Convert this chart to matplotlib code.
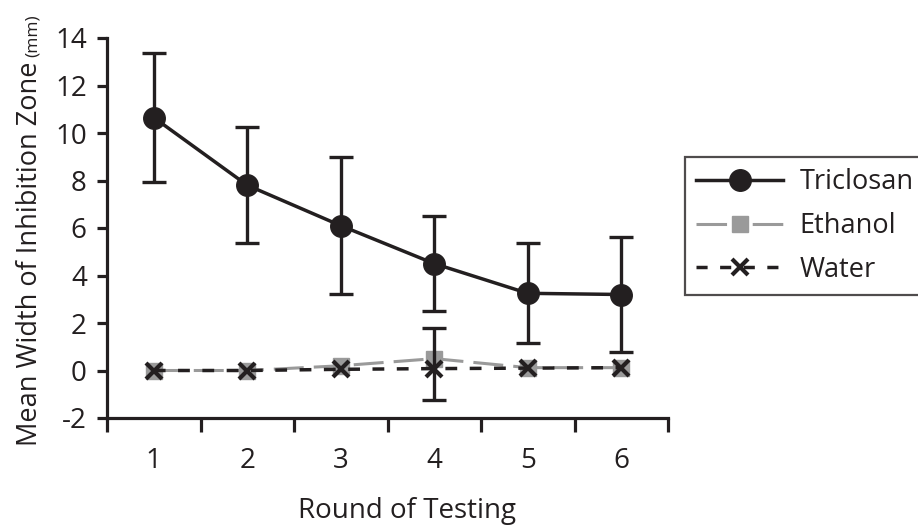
import numpy as np
import matplotlib
matplotlib.use("Agg")
import matplotlib.pyplot as plt
from matplotlib.lines import Line2D

plt.rcParams['font.family'] = ['Open Sans', 'DejaVu Sans']

rounds = [1, 2, 3, 4, 5, 6]
round_labels = ['1', '2', '3', '4', '5', '6']
triclosan = [10.65, 7.8, 6.1, 4.5, 3.25, 3.2]
triclosan_err = [2.7, 2.45, 2.87, 2.0, 2.1, 2.42]
ethanol = [0.0, 0.0, 0.2, 0.5, 0.12, 0.12]
water = [0.0, 0.0, 0.05, 0.08, 0.1, 0.12]
water_err_low = [np.nan, np.nan, np.nan, 1.33, np.nan, np.nan]
water_err_high = [np.nan, np.nan, np.nan, 1.7, np.nan, np.nan]
yticks = [-2, 0, 2, 4, 6, 8, 10, 12, 14]

BLACK = '#231f20'
GRAY = '#9a9a9a'
FS = 20

W, H = 918, 525
fig = plt.figure(figsize=(W / 100, H / 100), dpi=100)
ax = fig.add_axes([107 / W, 1 - 418 / H, (668 - 107) / W, (418 - 38) / H])

x = np.array(rounds, dtype=float)

# Ethanol (grey long dash)
ax.plot(x, ethanol, color=GRAY, lw=2.2, dashes=(9.8, 3.3), marker='s', ms=11,
        mfc=GRAY, mec=GRAY, zorder=2)
# Water (black dashed with x)
ax.plot(x, water, color=BLACK, lw=2.5, dashes=(3.4, 3.6), marker='x', ms=11,
        mew=3, mec=BLACK, zorder=3)
wl = np.array(water_err_low)
wh = np.array(water_err_high)
m = np.isfinite(wl)
ax.errorbar(x[m], np.array(water)[m], yerr=[wl[m], wh[m]], fmt='none',
            ecolor=BLACK, elinewidth=2.4, capsize=8.5, capthick=2.4, zorder=3)
# Triclosan
ax.errorbar(x, triclosan, yerr=triclosan_err, fmt='none', ecolor=BLACK,
            elinewidth=2.4, capsize=8.5, capthick=2.4, zorder=4)
ax.plot(x, triclosan, color=BLACK, lw=2.5, marker='o', ms=15.5, mfc=BLACK,
        mec=BLACK, zorder=5)

ax.set_xlim(0.5, 6.5)
ax.set_ylim(-2, 14)
ax.set_yticks(yticks)
ax.set_yticklabels([str(v) for v in yticks])
ax.set_xticks(np.arange(0.5, 6.6, 1.0))
ax.set_xticklabels([])
ax.set_xticks(x, minor=True)
ax.set_xticklabels(round_labels, minor=True)

for s in ['top', 'right']:
    ax.spines[s].set_visible(False)
for s in ['left', 'bottom']:
    ax.spines[s].set_linewidth(2.3)
    ax.spines[s].set_color(BLACK)

ax.tick_params(axis='y', direction='out', length=7.5, width=2.3, colors=BLACK,
               labelsize=FS, pad=7, labelcolor=BLACK)
ax.tick_params(axis='x', which='major', direction='out', length=10, width=2.3,
               colors=BLACK)
ax.tick_params(axis='x', which='minor', length=0, pad=21, labelsize=FS,
               labelcolor=BLACK)

# Legend (proxy handles so the dash patterns look like the reference)
handles = [
    Line2D([], [], color=BLACK, lw=2.5, marker='o', ms=15.5, mfc=BLACK, mec=BLACK),
    Line2D([], [], color=GRAY, lw=2.2, dashes=(10, 8.4), marker='s', ms=11,
           mfc=GRAY, mec=GRAY),
    Line2D([], [], color=BLACK, lw=2.5, dashes=(3.2, 3.6), marker='x', ms=11,
           mew=3, mec=BLACK),
]
labels = ['Triclosan', 'Ethanol', 'Water']
leg = fig.legend(handles, labels,
                 loc='upper left', bbox_to_anchor=(685 / W, 1 - 157 / H),
                 fontsize=19.5, frameon=True, fancybox=False, edgecolor=BLACK,
                 handlelength=3.2, handletextpad=0.6, labelspacing=0.58,
                 borderpad=0.42, borderaxespad=0)
leg.get_frame().set_linewidth(1.6)
for t in leg.get_texts():
    t.set_color(BLACK)

# X label
fig.text(407 / W, 1 - 511 / H, 'Round of Testing', fontsize=FS, color=BLACK,
         ha='center', va='center')

# Y label with smaller (mm)
bx = 37 / W
t1 = fig.text(bx, 1 - 446 / H, 'Mean Width of Inhibition Zone', fontsize=19.5,
              color=BLACK, rotation=90, rotation_mode='anchor', ha='left',
              va='baseline')
fig.canvas.draw()
bb = t1.get_window_extent(fig.canvas.get_renderer())
ytop = bb.y1 / H + 4 / H
fig.text(bx, ytop, '(mm)', fontsize=12.5, color=BLACK, rotation=90,
         rotation_mode='anchor', ha='left', va='baseline')

fig.savefig('out.png', dpi=100)
